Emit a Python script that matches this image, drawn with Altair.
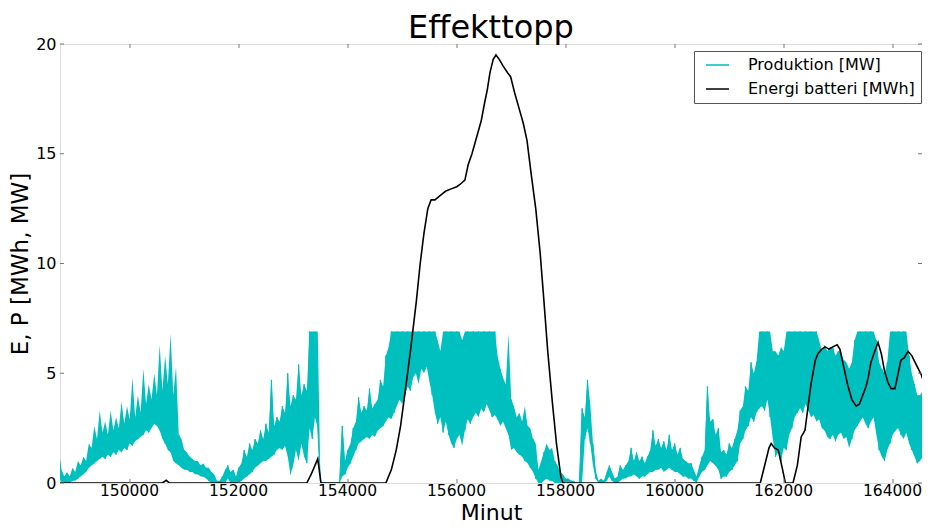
import altair as alt
import pandas as pd

# ---------------- data ----------------
title_text = "Effekttopp"
x_title = "Minut"
y_title = "E, P [MWh, MW]"
series_names = ["Produktion [MW]", "Energi batteri [MWh]"]
series_colors = ["#00BFBF", "#000000"]
x_ticks = [150000, 152000, 154000, 156000, 158000, 160000, 162000, 164000]
y_ticks = [0, 5, 10, 15, 20]
x_domain = [148716, 164532]
y_domain = [0, 20]

# production, read every 50 minutes from minute 148695:
# upper edge (spikes) and lower edge of the dense cyan band
prod_start = 148695
prod_step = 50
prod_high = [
    1.4, 0.6, 0.3, 0.5, 0.3, 0.7, 0.5, 1.0, 0.8, 1.2,
    1.0, 1.8, 1.6, 2.6, 2.0, 3.3, 2.3, 2.8, 2.2, 3.3,
    2.4, 3.0, 2.5, 3.7, 2.7, 3.5, 2.9, 4.8, 3.0, 4.0,
    3.2, 5.2, 3.6, 4.5, 3.8, 5.0, 4.0, 6.3, 4.2, 5.8,
    4.5, 6.8, 4.0, 5.3, 2.2, 2.0, 1.5, 1.4, 1.2, 1.1,
    1.0, 1.0, 0.8, 0.9, 0.7, 0.7, 0.5, 0.4, 0.1, 0.1,
    0.3, 0.6, 0.8, 0.5, 0.6, 0.3, 0.7, 0.9, 1.5, 1.2,
    1.8, 1.5, 2.0, 1.8, 2.4, 2.0, 2.7, 2.3, 4.7, 2.6,
    3.0, 2.8, 3.5, 3.2, 5.0, 3.5, 4.0, 3.8, 5.4, 4.0,
    4.5, 4.2, 6.9, 6.9, 6.9, 6.9, 0.0, 0.0, 0.0, 0.0,
    0.0, 0.0, 0.0, 0.0, 2.6, 1.0, 1.5, 1.8, 2.5, 2.8,
    3.9, 3.2, 3.5, 3.3, 4.3, 3.4, 3.6, 3.8, 4.7, 4.4,
    5.8, 6.2, 6.9, 6.9, 6.9, 6.9, 6.9, 6.9, 6.9, 6.9,
    6.9, 6.9, 6.9, 6.9, 6.9, 6.9, 6.9, 6.9, 6.9, 6.5,
    6.0, 6.9, 6.9, 6.9, 6.9, 6.9, 6.9, 6.9, 6.5, 6.9,
    6.9, 6.9, 6.9, 6.9, 6.9, 6.9, 6.9, 6.9, 6.9, 6.9,
    6.9, 5.8, 5.2, 4.8, 4.5, 6.8, 3.8, 3.5, 3.0, 3.2,
    2.8, 3.5, 2.6, 2.5, 2.0, 1.8, 0.6, 1.0, 1.4, 1.8,
    1.5, 1.6, 1.0, 0.8, 0.5, 0.4, 0.2, 0.2, 0.1, 0.1,
    0.0, 0.0, 3.4, 3.0, 4.7, 3.6, 1.8, 0.6, 0.1, 0.2,
    0.1, 0.5, 0.8, 0.5, 0.2, 0.3, 0.8, 0.6, 0.8, 1.0,
    1.6, 1.0, 1.4, 1.0, 1.2, 0.9, 1.2, 1.5, 2.4, 1.7,
    2.0, 1.6, 1.9, 1.5, 2.2, 1.5, 1.8, 1.3, 1.6, 1.1,
    1.0, 0.9, 0.9, 0.6, 0.3, 0.8, 1.2, 1.5, 4.4, 2.8,
    2.9, 2.2, 2.5, 1.4, 1.5, 1.3, 1.8, 1.6, 2.0, 2.4,
    3.3, 3.5, 4.4, 4.2, 5.5, 5.0, 5.5, 6.9, 6.9, 6.9,
    6.9, 6.9, 6.0, 6.0, 5.8, 6.2, 6.0, 6.9, 6.9, 6.9,
    6.9, 6.9, 6.9, 6.9, 6.9, 6.9, 6.9, 6.9, 6.9, 6.5,
    6.0, 6.3, 6.0, 6.2, 6.2, 5.8, 6.0, 6.0, 5.6, 5.5,
    5.2, 5.5, 6.5, 6.9, 6.9, 6.9, 6.9, 6.9, 6.9, 6.9,
    6.5, 5.5, 5.2, 5.0, 5.5, 6.9, 6.9, 6.9, 6.9, 6.9,
    6.9, 6.9, 5.8, 5.0, 4.5, 4.0, 4.0, 4.2, 3.8, 3.0,
]
prod_low = [
    0.3, 0.0, 0.0, 0.0, 0.0, 0.1, 0.1, 0.2, 0.3, 0.4,
    0.5, 0.7, 0.8, 0.9, 1.0, 1.1, 1.2, 1.1, 1.3, 1.2,
    1.4, 1.3, 1.5, 1.4, 1.6, 1.5, 1.8, 1.7, 1.9, 2.0,
    2.1, 2.2, 2.4, 2.3, 2.5, 2.7, 2.6, 2.4, 2.0, 1.8,
    1.5, 1.4, 1.0, 0.9, 0.8, 0.7, 0.6, 0.6, 0.5, 0.5,
    0.4, 0.4, 0.3, 0.3, 0.2, 0.1, 0.0, 0.0, 0.0, 0.0,
    0.0, 0.0, 0.2, 0.0, 0.0, 0.0, 0.0, 0.1, 0.2, 0.3,
    0.4, 0.5, 0.7, 0.8, 0.9, 1.0, 1.0, 1.1, 1.2, 1.3,
    1.5, 1.6, 1.5, 1.7, 1.2, 0.4, 0.8, 1.5, 1.0, 1.8,
    1.2, 0.9, 2.5, 2.0, 3.0, 2.5, 0.0, 0.0, 0.0, 0.0,
    0.0, 0.0, 0.0, 0.0, 0.3, 0.4, 0.7, 0.9, 1.2, 1.5,
    1.8, 1.9, 2.0, 2.1, 2.0, 2.2, 2.1, 2.4, 2.5, 2.6,
    2.8, 3.0, 2.9, 3.2, 3.5, 3.8, 3.6, 4.0, 4.4, 4.2,
    4.8, 5.0, 4.5, 5.2, 5.0, 5.3, 4.6, 4.0, 3.2, 2.7,
    3.0, 2.3, 2.8, 2.2, 1.8, 1.6, 2.0, 2.2, 1.7, 2.4,
    2.9, 2.7, 3.0, 3.2, 3.0, 3.4, 3.2, 3.6, 3.3, 3.0,
    3.1, 2.9, 2.6, 2.8, 2.5, 2.2, 1.5, 1.6, 1.4, 1.3,
    1.2, 1.0, 0.9, 0.7, 0.5, 0.2, 0.0, 0.0, 0.1, 0.2,
    0.1, 0.1, 0.0, 0.0, 0.0, 0.0, 0.0, 0.0, 0.0, 0.0,
    0.0, 0.0, 0.0, 2.0, 2.5, 1.8, 0.8, 0.2, 0.0, 0.0,
    0.0, 0.1, 0.3, 0.1, 0.0, 0.0, 0.1, 0.2, 0.2, 0.3,
    0.3, 0.4, 0.3, 0.2, 0.3, 0.3, 0.4, 0.5, 0.5, 0.6,
    0.6, 0.7, 0.5, 0.6, 0.7, 0.6, 0.5, 0.5, 0.4, 0.3,
    0.3, 0.2, 0.2, 0.1, 0.0, 0.3, 0.5, 0.6, 0.8, 1.0,
    0.9, 0.8, 0.6, 0.2, 0.3, 0.3, 0.5, 0.6, 0.8, 1.0,
    1.8, 2.0, 2.4, 2.6, 3.0, 2.8, 3.2, 3.4, 3.5, 3.3,
    3.8, 3.0, 2.0, 1.2, 1.4, 1.0, 1.6, 1.5, 2.2, 2.5,
    3.0, 3.2, 3.4, 3.2, 3.6, 3.3, 3.0, 3.1, 2.8, 2.9,
    2.5, 2.4, 2.1, 2.0, 2.2, 1.9, 2.2, 2.3, 2.0, 2.1,
    1.6, 2.0, 2.4, 2.6, 2.8, 3.0, 2.7, 2.5, 2.8, 3.0,
    2.2, 1.5, 1.2, 1.0, 1.5, 1.8, 2.2, 2.4, 2.5, 2.2,
    2.0, 2.3, 1.8, 1.5, 1.2, 0.9, 1.0, 1.2, 1.4, 1.0,
]

# battery energy
batt_minutes = [
    148600, 150595, 150665, 150725, 153245, 153325, 153395, 153445, 153505,
    154695, 154795, 154885, 154965, 155035, 155145, 155255, 155325, 155395,
    155465, 155525, 155595, 155695, 155795, 155895, 155995, 156055, 156145,
    156205, 156275, 156365, 156445, 156505, 156555, 156605, 156665, 156715,
    156775, 156845, 156925, 156985, 157055, 157135, 157215, 157285, 157365,
    157445, 157525, 157595, 157665, 157745, 157825, 157905, 157945,
    161565, 161645, 161725, 161765, 161825, 161895, 161975, 162025,
    162165, 162245, 162315, 162385, 162495, 162575, 162625, 162695, 162755,
    162825, 162895, 162975, 163025, 163095, 163165, 163245, 163325, 163385,
    163445, 163505, 163545, 163595, 163665, 163725, 163785, 163845, 163905,
    163965, 164035, 164095, 164145, 164205, 164275, 164345, 164405, 164465,
    164525, 164585, 164650,
]
batt_values = [
    0.0, 0.0, 0.12, 0.0, 0.0, 0.4, 0.8, 1.1, 0.0,
    0.0, 0.6, 1.5, 2.6, 3.9, 6.0, 8.3, 10.0, 11.4,
    12.5, 12.9, 12.9, 13.1, 13.3, 13.4, 13.5, 13.6, 13.8,
    14.5, 15.0, 15.8, 16.5, 17.3, 17.9, 18.7, 19.3, 19.5,
    19.3, 19.0, 18.7, 18.5, 17.8, 17.1, 16.4, 15.6, 14.0,
    12.5, 10.5, 8.3, 6.0, 3.8, 1.8, 0.3, 0.0,
    0.0, 0.8, 1.6, 1.8, 1.6, 1.5, 0.6, 0.0,
    0.0, 0.8, 2.1, 2.4, 4.5, 5.6, 5.9, 6.1, 6.2,
    6.1, 6.2, 6.3, 6.1, 5.3, 4.5, 3.8, 3.5, 3.6,
    4.0, 4.4, 4.8, 5.5, 6.0, 6.4, 5.9, 5.1, 4.6,
    4.3, 4.3, 5.0, 5.6, 5.7, 6.0, 5.8, 5.5, 5.2,
    4.9, 4.4, 4.0,
]

# ---------------- tables ----------------
n = len(prod_high)
prod_minutes = [prod_start + prod_step * i for i in range(n)]
band_df = pd.DataFrame({
    "minute": prod_minutes, "high": prod_high, "low": prod_low,
    "series": series_names[0],
})
# the raw trace alternates between the band's two edges
prod_df = pd.DataFrame({
    "minute": prod_minutes,
    "value": [prod_high[i] if i % 2 == 0 else prod_low[i] for i in range(n)],
    "series": series_names[0],
})
batt_df = pd.DataFrame({
    "minute": batt_minutes, "value": batt_values, "series": series_names[1],
})
xt_df = pd.DataFrame({"t": x_ticks})
yt_df = pd.DataFrame({"t": y_ticks})

W, H = 862, 439
FONT = "DejaVu Sans"

x_scale = alt.Scale(domain=x_domain, nice=False, zero=False)
y_scale = alt.Scale(domain=y_domain, nice=False)
color_scale = alt.Scale(domain=series_names, range=series_colors)

x_axis = alt.Axis(
    values=x_ticks, format="d", ticks=False, domain=False, grid=False,
    labelFontSize=15.5, labelFont=FONT, labelColor="black", labelPadding=0,
    labelOffset=-1,
    title=x_title, titleFontSize=22, titleFont=FONT, titleFontWeight="normal",
    titleColor="black", titlePadding=4, labelFlush=False,
)
y_axis = alt.Axis(
    values=y_ticks, ticks=False, domain=False, grid=False,
    labelFontSize=16, labelFont=FONT, labelColor="black", labelPadding=4,
    title=y_title, titleFontSize=23, titleFont=FONT, titleFontWeight="normal",
    titleColor="black", titlePadding=3, labelFlush=False,
)

legend = alt.Legend(
    title=None, orient="none", legendX=634, legendY=7,
    symbolType="stroke", symbolSize=529, symbolStrokeWidth=1.6, symbolOffset=5,
    labelFontSize=16, labelFont=FONT, labelColor="black", labelOffset=18,
    padding=6, rowPadding=8, clipHeight=16, strokeColor="#555555",
    fillColor="white", cornerRadius=0, labelLimit=400,
)

prod_band = alt.Chart(band_df).mark_area(color=series_colors[0], clip=True).encode(
    x=alt.X("minute:Q", scale=x_scale, axis=x_axis),
    y=alt.Y("low:Q", scale=y_scale, axis=y_axis),
    y2="high:Q",
)
prod_line = alt.Chart(prod_df).mark_line(strokeWidth=1.0, clip=True).encode(
    x=alt.X("minute:Q", scale=x_scale),
    y=alt.Y("value:Q", scale=y_scale),
    color=alt.Color("series:N", scale=color_scale, legend=legend),
)
batt_line = alt.Chart(batt_df).mark_line(strokeWidth=1.6, clip=True).encode(
    x=alt.X("minute:Q", scale=x_scale),
    y=alt.Y("value:Q", scale=y_scale),
    color=alt.Color("series:N", scale=color_scale),
)

tick_color = "#777777"
tick_len = 4
bottom_ticks = alt.Chart(xt_df).mark_rule(color=tick_color, strokeWidth=1).encode(
    x=alt.X("t:Q", scale=x_scale), y=alt.value(H), y2=alt.value(H - tick_len))
top_ticks = alt.Chart(xt_df).mark_rule(color=tick_color, strokeWidth=1).encode(
    x=alt.X("t:Q", scale=x_scale), y=alt.value(0), y2=alt.value(tick_len))
left_ticks = alt.Chart(yt_df).mark_rule(color=tick_color, strokeWidth=1).encode(
    y=alt.Y("t:Q", scale=y_scale), x=alt.value(0), x2=alt.value(tick_len))
right_ticks = alt.Chart(yt_df).mark_rule(color=tick_color, strokeWidth=1).encode(
    y=alt.Y("t:Q", scale=y_scale), x=alt.value(W), x2=alt.value(W - tick_len))

chart = alt.layer(
    prod_band, prod_line, batt_line, bottom_ticks, top_ticks, left_ticks, right_ticks
).properties(
    width=W, height=H,
    title=alt.TitleParams(text=title_text, fontSize=32, font=FONT, fontWeight="normal",
                          color="black", anchor="middle", offset=-9),
    autosize=alt.AutoSizeParams(type="none"),
    padding={"left": 52, "top": 36, "right": 0, "bottom": 46},
).configure_view(
    stroke="#555555", strokeWidth=1,
).configure(background="white")

chart.save("out.html", embed_options={"renderer": "svg", "actions": False})
